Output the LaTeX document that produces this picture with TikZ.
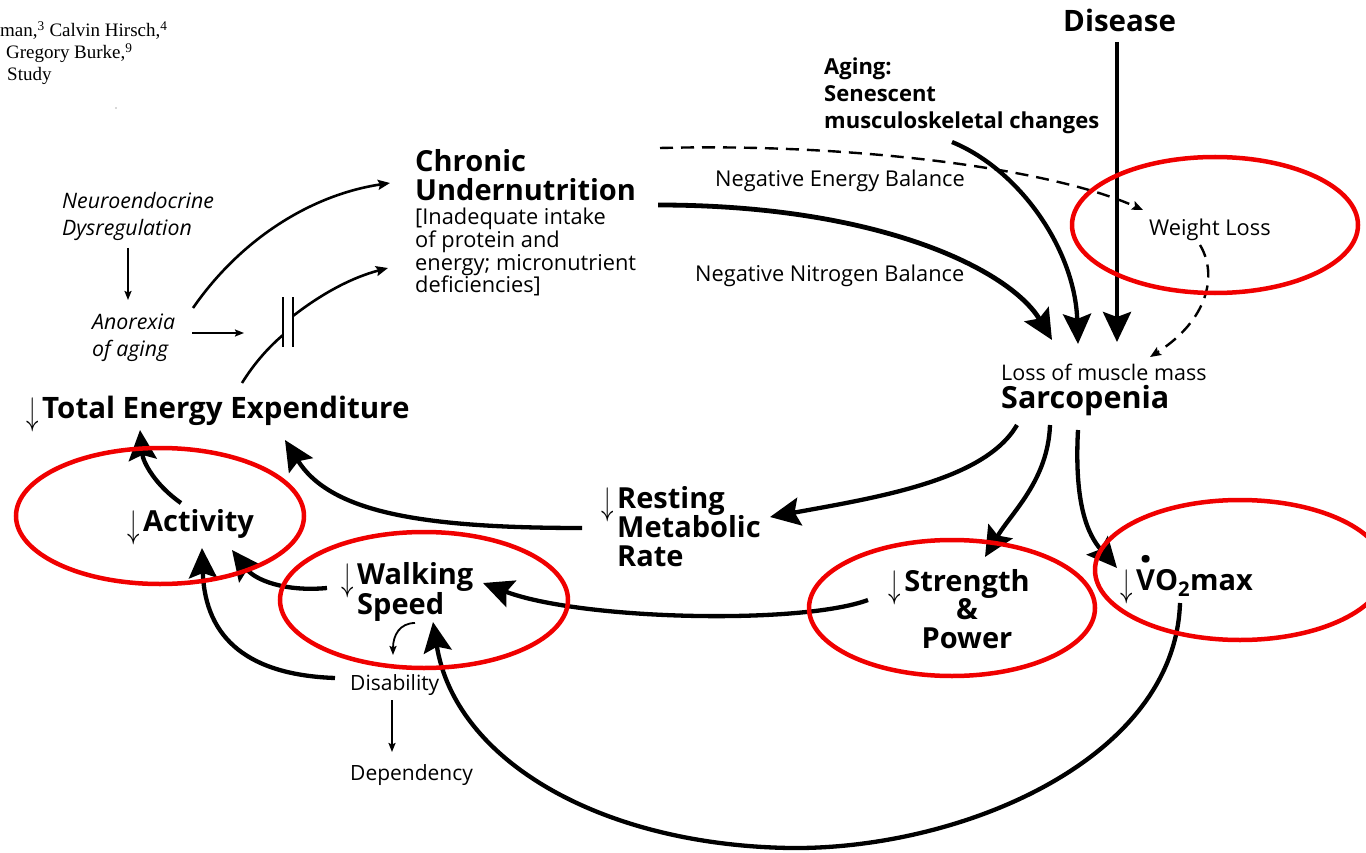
\documentclass[tikz,border=0pt]{standalone}
\usepackage{fontspec}
\usepackage{graphicx}
\setmainfont{Open Sans}
\newfontfamily\timesfont{Liberation Serif}
\usetikzlibrary{arrows.meta,calc}

\definecolor{ringred}{RGB}{240,0,0}

\tikzset{
  x=1pt, y=-1pt,
  lbl/.style={inner sep=0pt, anchor=base west, align=left},
  bigbold/.style={lbl, font=\fontsize{29}{29}\bfseries\selectfont},
  midbold/.style={lbl, font=\fontsize{22}{27}\bfseries\selectfont},
  plain/.style={lbl, font=\fontsize{21.8}{23}\selectfont},
  slant/.style={lbl, font=\fontsize{21.3}{27}\itshape\selectfont},
  small/.style={lbl, font=\fontsize{21}{22}\selectfont},
  bigarrow/.style={line width=4.3pt, -{Stealth[length=30pt,width=28pt,inset=5pt]}},
  midarrow/.style={line width=2.6pt, -{Stealth[length=12pt,width=10pt,inset=2pt]}},
  thinarrow/.style={line width=1.8pt, -{Stealth[length=9pt,width=7pt,inset=1.5pt]}},
  dasharrow/.style={line width=2.4pt, dash pattern=on 13pt off 8pt,
                    -{Stealth[length=11pt,width=9pt,inset=2pt]}},
  ring/.style={draw=ringred, line width=4.5pt},
}

% small "decrease" arrow hung in front of a label (smashed so line spacing stays put)
\newcommand{\dn}{\llap{\smash{\raisebox{-6pt}{\scalebox{1}[1.55]{$\downarrow$}}}\kern3pt}}
% V with a rate dot above it
\newcommand{\Vdot}{\ooalign{V\cr\hidewidth\smash{\raisebox{28pt}{\scalebox{1.6}{.}}}\hidewidth\cr}}

\begin{document}
\begin{tikzpicture}
\useasboundingbox[fill=white] (0,0) rectangle (1366,853);

% author line fragment, top left
\node[lbl, font=\fontsize{19}{22}\timesfont\selectfont] (authors) at (0,81)
  {man,\textsuperscript{3} Calvin Hirsch,\textsuperscript{4}\\
   \hspace*{6pt}Gregory Burke,\textsuperscript{9}\\
   \hspace*{7pt}Study};
\fill[gray!60] (116,108) circle (0.8);

% ---------- labels (multi-line labels sit on their last baseline) ----------
\node[lbl, font=\fontsize{29.5}{30}\bfseries\selectfont] (disease) at (1063,32) {Disease};
\node[midbold] (aging) at (824,129) {Aging:\\Senescent\\musculoskeletal changes};
\node[bigbold] (chronic) at (415,201) {Chronic\\Undernutrition};
\node[plain] (intake) at (415,293)
  {[Inadequate intake\\of protein and\\energy; micronutrient\\deficiencies]};
\node[plain] (neb) at (715,187) {Negative Energy Balance};
\node[plain] (nnb) at (695,282) {Negative Nitrogen Balance};
\node[plain] (wl) at (1149,236) {Weight Loss};
\node[lbl, font=\fontsize{21.5}{28}\selectfont] (sarc) at (1001,408)
  {Loss of muscle mass\\{\fontsize{30.5}{28}\bfseries\selectfont Sarcopenia}};
\node[slant] (neuro) at (62,236) {Neuroendocrine\\Dysregulation};
\node[slant] (anorexia) at (92,356) {Anorexia\\of aging};
\node[bigbold, font=\fontsize{29.5}{29}\bfseries\selectfont] (tee) at (42,418) {\dn Total Energy Expenditure};
\node[bigbold] (activity) at (143,531) {\dn Activity};
\node[bigbold] (rmr) at (617,566) {\dn Resting\\Metabolic\\Rate};
\node[bigbold, font=\fontsize{29}{27}\bfseries\selectfont] (walk) at (357,614) {\dn Walking\\Speed};
\node[small] (disab) at (350,690) {Disability};
\node[small] (depend) at (350,780) {Dependency};
\node[bigbold, anchor=base, align=center, font=\fontsize{29}{28.5}\bfseries\selectfont]
  (strength) at (967,648) {\dn Strength\\\&\\Power};
\node[bigbold] (vo2) at (1136,590) {\dn\Vdot O\textsubscript{2}max};

% ---------- connectors ----------
% causes converging on sarcopenia
\draw[bigarrow] ($(disease.base west)+(54,10)$) -- ($(sarc.base west)+(116,-66)$);
\draw[bigarrow] ($(aging.base west)+(128,13)$)
  .. controls (1020,170) and (1075,250) .. ($(sarc.base west)+(77,-64)$);
\draw[bigarrow, line width=4.8pt] ($(chronic.base west)+(243,4)$)
  .. controls (880,205) and (1010,270) .. ($(sarc.base west)+(51,-68)$);
\draw[dasharrow] ($(chronic.base west)+(245,-53)$)
  .. controls (850,143) and (1050,168) .. ($(wl.base west)+(-6,-26)$);
\draw[dasharrow] ($(wl.base west)+(51,9)$)
  .. controls (1218,275) and (1208,320) .. ($(sarc.base west)+(149,-51)$);

% consequences of sarcopenia
\draw[bigarrow] ($(sarc.base west)+(16,17)$)
  .. controls (985,480) and (880,497) .. ($(rmr.base west)+(153,-49)$);
\draw[bigarrow] ($(sarc.base west)+(49,17)$)
  .. controls (1048,480) and (1012,512) .. ($(strength.base)+(18,-91)$);
\draw[bigarrow] ($(sarc.base west)+(77,22)$)
  .. controls (1074,505) and (1088,535) .. ($(vo2.base west)+(-19,-22)$);

% feedback towards energy expenditure
\draw[bigarrow] ($(rmr.base west)+(-35,-38)$)
  .. controls (420,528) and (330,512) .. ($(tee.base west)+(243,22)$);
\draw[bigarrow] ($(strength.base)+(-99,-48)$)
  .. controls (800,625) and (580,620) .. ($(walk.base west)+(126,-31)$);
\draw[bigarrow] ($(walk.base west)+(-30,-26)$)
  .. controls (285,592) and (255,580) .. ($(activity.base west)+(89,19)$);
\draw[bigarrow] ($(activity.base west)+(38,-28)$)
  .. controls (155,485) and (143,462) .. ($(tee.base west)+(98,12)$);
\draw[bigarrow] ($(disab.base west)+(-15,-12)$)
  .. controls (250,675) and (205,640) .. ($(activity.base west)+(59,17)$);
\draw[bigarrow] ($(vo2.base west)+(44,13)$)
  .. controls (1175,760) and (960,850) .. (790,848)
  .. controls (600,845) and (455,760) .. ($(walk.base west)+(76,8)$);

% disability chain
\draw[thinarrow] ($(walk.base west)+(58,9)$)
  .. controls (400,623) and (393,635) .. ($(disab.base west)+(43,-35)$);
\draw[thinarrow] ($(disab.base west)+(42,10)$) -- ($(depend.base west)+(42,-28)$);

% undernutrition pathway
\draw[thinarrow] ($(neuro.base west)+(66,12)$) -- ($(anorexia.base west)+(36,-56)$);
\draw[midarrow] ($(anorexia.base west)+(101,-48)$)
  .. controls (240,240) and (310,195) .. ($(chronic.base west)+(-25,-18)$);
\coordinate (blockL) at (283,335);
\coordinate (blockR) at (293,316);
\coordinate (blockIn) at (244,333);
\draw[thinarrow] ($(anorexia.base west)+(100,-23)$) -- (blockIn);
\draw[line width=2.6pt] ($(tee.base west)+(200,-35)$)
  .. controls (255,362) and (270,346) .. (blockL);
\draw[midarrow] (blockR) .. controls (320,295) and (350,278) .. ($(chronic.base west)+(-27,67)$);
\draw[line width=2.4pt] (283,297) -- (283,347);
\draw[line width=2.4pt] (293,297) -- (293,347);

% ---------- highlight rings ----------
\draw[ring] (1215,225) ellipse [x radius=143, y radius=68];
\draw[ring] (160,516) ellipse [x radius=144, y radius=68];
\draw[ring] (424,600) ellipse [x radius=144, y radius=68];
\draw[ring] (952,608) ellipse [x radius=143, y radius=68];
\draw[ring] (1240,570) ellipse [x radius=145, y radius=70];
\end{tikzpicture}
\end{document}
